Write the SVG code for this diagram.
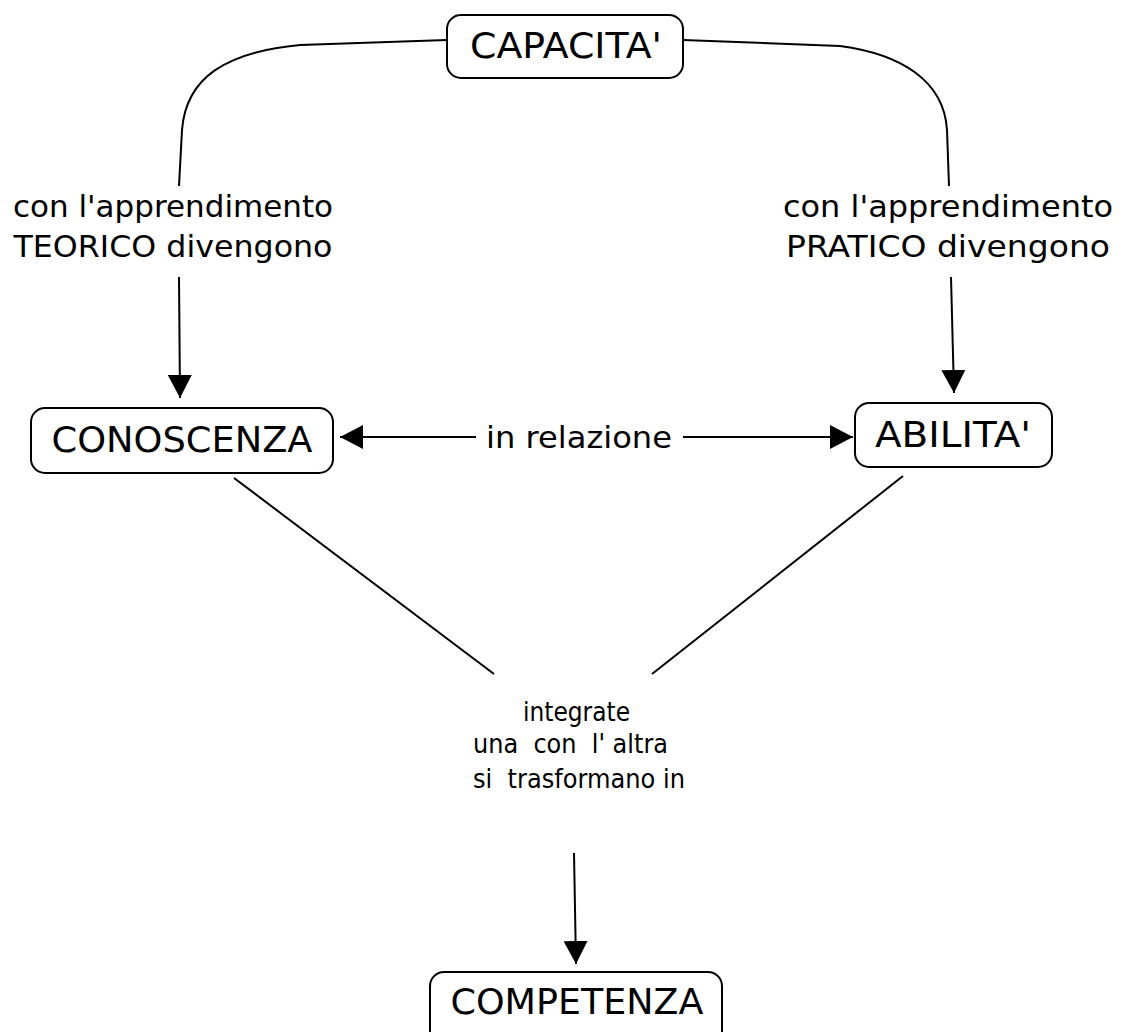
<svg xmlns="http://www.w3.org/2000/svg" width="1122" height="1032" viewBox="0 0 1122 1032">
<style>
.box{fill:#fff;stroke:#000;stroke-width:2}
.nl{font-family:"DejaVu Sans",Verdana,sans-serif;font-size:36px;fill:#000;text-anchor:middle}
.lbl{font-family:"DejaVu Sans",Verdana,sans-serif;font-size:30px;fill:#000;text-anchor:middle}
.sm{font-family:"DejaVu Sans Condensed","DejaVu Sans",sans-serif;font-size:26px;fill:#000;white-space:pre}
.ln{fill:none;stroke:#000;stroke-width:2}
</style>
<defs>
<marker id="ah" markerUnits="userSpaceOnUse" markerWidth="24" markerHeight="24" refX="23" refY="12" orient="auto" viewBox="0 0 24 24">
<path d="M0,0 L23,12 L0,24 z" fill="#000"/>
</marker>
</defs>
<rect width="1122" height="1032" fill="#fff"/>
<g id="connectors">
<path class="ln" d="M447,40 L300,45 C225,52 186,78 182,130 L179,186"/>
<path class="ln" d="M683,40 L840,46 C900,54 944,80 947,130 L949,186"/>
<line class="ln" x1="179" y1="277" x2="180" y2="398" marker-end="url(#ah)"/>
<line class="ln" x1="951" y1="277" x2="954" y2="393" marker-end="url(#ah)"/>
<line class="ln" x1="476" y1="437" x2="340" y2="437" marker-end="url(#ah)"/>
<line class="ln" x1="683" y1="437" x2="853" y2="437" marker-end="url(#ah)"/>
<line class="ln" x1="234" y1="478" x2="494" y2="674"/>
<line class="ln" x1="903" y1="476" x2="652" y2="674"/>
<line class="ln" x1="574" y1="853" x2="576" y2="964" marker-end="url(#ah)"/>
<text class="lbl" x="173" y="217" textLength="320" lengthAdjust="spacingAndGlyphs">con l'apprendimento</text>
<text class="lbl" x="173" y="257" textLength="319" lengthAdjust="spacingAndGlyphs">TEORICO divengono</text>
<text class="lbl" x="948" y="217" textLength="330" lengthAdjust="spacingAndGlyphs">con l'apprendimento</text>
<text class="lbl" x="948" y="257" textLength="324" lengthAdjust="spacingAndGlyphs">PRATICO divengono</text>
<text class="lbl" x="579" y="448" textLength="186" lengthAdjust="spacingAndGlyphs">in relazione</text>
<text class="sm" x="523" y="721" textLength="107" lengthAdjust="spacingAndGlyphs">integrate</text>
<text class="sm" x="473" y="753" textLength="195" lengthAdjust="spacingAndGlyphs">una  con  l' altra</text>
<text class="sm" x="473" y="788" textLength="212" lengthAdjust="spacingAndGlyphs">si  trasformano in</text>
</g>
<g id="capacita">
<rect class="box" x="447" y="15" width="236" height="63" rx="14"/>
<text class="nl" x="566" y="58" textLength="192" lengthAdjust="spacingAndGlyphs">CAPACITA'</text>
</g>
<g id="conoscenza">
<rect class="box" x="31" y="408" width="302" height="65" rx="14"/>
<text class="nl" x="182" y="452" textLength="261" lengthAdjust="spacingAndGlyphs">CONOSCENZA</text>
</g>
<g id="abilita">
<rect class="box" x="855" y="403" width="197" height="64" rx="14"/>
<text class="nl" x="953" y="447" textLength="156" lengthAdjust="spacingAndGlyphs">ABILITA'</text>
</g>
<g id="competenza">
<rect class="box" x="430" y="972" width="292" height="80" rx="14"/>
<text class="nl" x="577" y="1014" textLength="253" lengthAdjust="spacingAndGlyphs">COMPETENZA</text>
</g>
</svg>
